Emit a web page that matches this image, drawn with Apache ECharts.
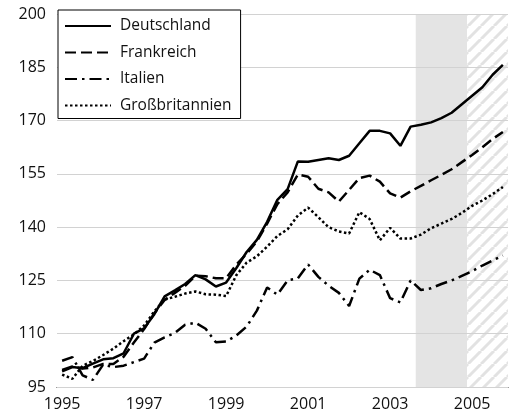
<!DOCTYPE html>
<html>
<head>
<meta charset="utf-8">
<script src="https://cdn.jsdelivr.net/npm/echarts@6/dist/echarts.min.js"></script>
<style>
  html, body { margin: 0; padding: 0; background: #fff; }
  #chart { width: 511px; height: 419px; }
</style>
</head>
<body>
<div id="chart"></div>
<script>
// Quartale 1995 Q1 .. 2005 Q4
const years = [1995, 1996, 1997, 1998, 1999, 2000, 2001, 2002, 2003, 2004, 2005]
const quarters = ['Q1', 'Q2', 'Q3', 'Q4']
const categories = []
years.forEach(y => quarters.forEach(q => categories.push(y + ' ' + q)))

const yTicks = { min: 95, max: 200, step: 15 }

const deutschland = [99.4, 100.6, 100.3, 101.6, 102.8, 103.1, 104.5, 110.0, 111.5, 115.5, 120.5, 122.2,
  124.0, 126.5, 125.3, 123.3, 124.4, 128.5, 133.0, 136.4, 141.5, 147.7, 150.7, 158.5,
  158.4, 158.9, 159.4, 158.9, 160.1, 163.6, 167.1, 167.1, 166.4, 162.9, 168.3, 168.8,
  169.5, 170.7, 172.2, 174.6, 177.0, 179.4, 182.9, 185.7]

const frankreich = [99.8, 100.8, 100.2, 100.5, 101.5, 101.5, 103.5, 107.5, 111.3, 115.8, 119.5, 121.5,
  123.5, 126.3, 126.2, 125.6, 125.6, 129.5, 132.5, 136.0, 141.0, 146.5, 149.8, 154.8,
  154.2, 150.8, 149.8, 147.2, 150.5, 153.8, 154.5, 152.8, 149.5, 148.3, 150.1, 151.6,
  153.2, 154.7, 156.3, 158.3, 160.3, 162.5, 164.8, 166.8]

const italien = [102.4, 103.4, 98.3, 97.0, 101.3, 100.6, 101.0, 102.0, 103.0, 107.5, 109.0, 110.2,
  112.5, 113.1, 111.4, 107.6, 107.8, 109.5, 112.0, 116.5, 123.0, 121.0, 125.0, 125.6,
  129.5, 126.0, 123.5, 121.5, 117.8, 125.5, 128.0, 126.5, 120.0, 118.8, 125.0, 122.3,
  122.8, 124.0, 125.0, 126.3, 127.6, 129.2, 130.6, 132.0]

const grossbritannien = [98.5, 97.3, 101.0, 102.3, 104.0, 105.8, 107.9, 109.8, 112.3, 116.3, 119.6, 120.4,
  121.3, 121.9, 121.1, 121.0, 120.6, 126.5, 130.0, 131.8, 134.5, 137.5, 139.4, 143.3,
  145.5, 142.8, 140.0, 138.8, 138.2, 144.2, 142.3, 136.3, 139.8, 136.8, 136.8, 137.9,
  139.7, 141.0, 142.3, 144.0, 146.0, 147.5, 149.3, 151.3]

// Bereiche in Quartalen ab 1995 Q1: grau 2003 Q4 - 2004 Q4, schraffiert 2005
const greyBand = [35, 40]
const hatchBand = [40, 44]

// Schraffur-Muster
const hatch = document.createElement('canvas')
hatch.width = 13
hatch.height = 13
const hctx = hatch.getContext('2d')
hctx.fillStyle = '#fff'
hctx.fillRect(0, 0, 13, 13)
hctx.strokeStyle = '#e2e2e2'
hctx.lineWidth = 3
;[-13, 0, 13].forEach(o => {
  hctx.beginPath()
  hctx.moveTo(o, 13)
  hctx.lineTo(o + 13, 0)
  hctx.stroke()
})

const font = '"Open Sans", "Noto Sans", sans-serif'

function lineSeries(name, data, type) {
  return {
    name: name,
    type: 'line',
    data: data,
    symbol: 'none',
    z: 5,
    lineStyle: { color: '#000', width: 2.5, type: type, cap: 'butt' },
    itemStyle: { color: '#000' }
  }
}

const chart = echarts.init(document.getElementById('chart'))
chart.setOption({
  animation: false,
  textStyle: { fontFamily: font },
  grid: { left: 57, right: 3, top: 14, bottom: 32, outerBoundsMode: 'none' },
  legend: {
    orient: 'vertical',
    left: 58,
    top: 10,
    data: ['Deutschland', 'Frankreich', 'Italien', 'Großbritannien'],
    itemWidth: 46,
    itemHeight: 16,
    itemGap: 10.5,
    padding: [8, 9, 5, 6],
    backgroundColor: '#fff',
    borderColor: '#000',
    borderWidth: 1,
    itemStyle: { color: 'transparent', borderWidth: 0, opacity: 0 },
    textStyle: { fontFamily: font, fontSize: 15.5, color: '#111', lineHeight: 16, padding: [0, 0, 0, 4] }
  },
  xAxis: [
    {
      type: 'category',
      data: categories,
      boundaryGap: true,
      axisLine: { lineStyle: { color: '#000', width: 1 } },
      axisTick: { interval: 0, length: 5, lineStyle: { color: '#000' } },
      axisLabel: {
        interval: (i) => i % 8 === 0,
        formatter: (v) => v.slice(0, 4),
        fontSize: 16,
        color: '#111',
        margin: 9
      },
      splitLine: { show: false }
    },
    { type: 'value', min: 0, max: 44, show: false }
  ],
  yAxis: {
    type: 'value',
    min: yTicks.min,
    max: yTicks.max,
    interval: yTicks.step,
    z: 3,
    axisLine: { show: false },
    axisTick: { show: false },
    axisLabel: { fontSize: 16, color: '#111', margin: 11 },
    splitLine: { lineStyle: { color: '#d2d2d2', width: 1.2 } }
  },
  series: [
    {
      type: 'line',
      xAxisIndex: 1,
      data: [],
      z: 1,
      silent: true,
      markArea: {
        silent: true,
        data: [
          [{ xAxis: greyBand[0], itemStyle: { color: '#e4e4e4' } }, { xAxis: greyBand[1] }],
          [{ xAxis: hatchBand[0], itemStyle: { color: { image: hatch, repeat: 'repeat' } } }, { xAxis: hatchBand[1] }]
        ]
      }
    },
    lineSeries('Deutschland', deutschland, 'solid'),
    lineSeries('Frankreich', frankreich, [11, 5]),
    lineSeries('Italien', italien, [12, 5, 2.5, 5]),
    lineSeries('Großbritannien', grossbritannien, [2.5, 2.5])
  ]
})
</script>
</body>
</html>
